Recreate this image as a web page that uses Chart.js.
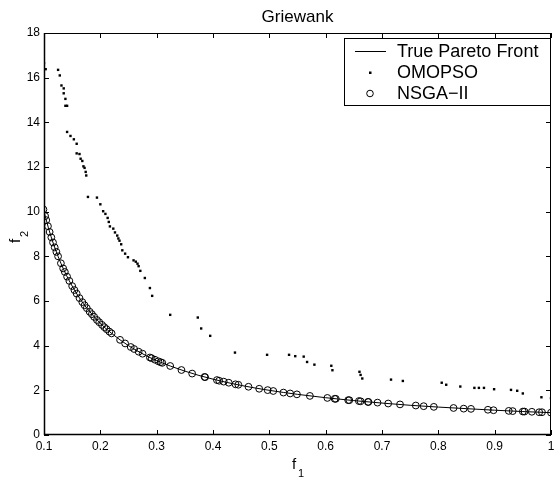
<!DOCTYPE html>
<html>
<head>
<meta charset="utf-8">
<title>Griewank</title>
<script src="https://cdn.jsdelivr.net/npm/chart.js@4.4.1/dist/chart.umd.min.js"></script>
<style>
  html, body { margin: 0; padding: 0; background: #fff; }
  #wrap { width: 556px; height: 478px; }
</style>
</head>
<body>
<div id="wrap"><canvas id="chart" width="556" height="478"></canvas></div>
<script>
// axis ticks
const xTicks = [0.1, 0.2, 0.3, 0.4, 0.5, 0.6, 0.7, 0.8, 0.9, 1];
const yTicks = [0, 2, 4, 6, 8, 10, 12, 14, 16, 18];

// true pareto front (f1, f2)
const frontX = [0.10, 0.11, 0.12, 0.13, 0.14, 0.15, 0.16, 0.17, 0.18, 0.20, 0.22, 0.25, 0.28, 0.30,
                0.35, 0.40, 0.45, 0.50, 0.55, 0.60, 0.65, 0.70, 0.75, 0.80, 0.85, 0.90, 0.95, 1.00];
const frontY = [10.00, 9.09, 8.33, 7.69, 7.14, 6.67, 6.25, 5.88, 5.56, 5.00, 4.55, 4.00, 3.57, 3.33,
                2.86, 2.50, 2.22, 2.00, 1.82, 1.67, 1.54, 1.43, 1.33, 1.25, 1.18, 1.11, 1.05, 1.00];

// OMOPSO solutions
const omopsoX = [0.100, 0.103, 0.125, 0.128, 0.131, 0.135, 0.135, 0.138, 0.138, 0.141, 0.141, 0.147,
                 0.153, 0.158, 0.158, 0.163, 0.165, 0.168, 0.170, 0.172, 0.174, 0.175, 0.178, 0.194,
                 0.200, 0.205, 0.209, 0.213, 0.215, 0.217, 0.223, 0.226, 0.230, 0.232, 0.234, 0.237,
                 0.239, 0.244, 0.249, 0.259, 0.263, 0.266, 0.268, 0.271, 0.279, 0.288, 0.292, 0.324,
                 0.373, 0.379, 0.395, 0.439, 0.496, 0.535, 0.546, 0.561, 0.567, 0.580, 0.610, 0.612,
                 0.660, 0.662, 0.665, 0.716, 0.737, 0.806, 0.814, 0.839, 0.864, 0.872, 0.881, 0.899,
                 0.929, 0.940, 0.950, 0.983, 1.000];
const omopsoY = [16.65, 16.38, 16.35, 16.10, 15.65, 15.52, 15.30, 15.05, 14.74, 14.74, 13.57, 13.39,
                 13.24, 13.04, 12.61, 12.58, 12.37, 12.27, 12.03, 11.96, 11.78, 11.62, 10.66, 10.63,
                 10.33, 10.02, 9.90, 9.72, 9.54, 9.34, 9.24, 9.07, 8.93, 8.80, 8.70, 8.54,
                 8.27, 8.12, 7.96, 7.82, 7.76, 7.67, 7.56, 7.35, 7.03, 6.58, 6.23, 5.38,
                 5.26, 4.77, 4.44, 3.69, 3.59, 3.59, 3.53, 3.51, 3.27, 3.15, 3.10, 2.90,
                 2.83, 2.69, 2.53, 2.48, 2.42, 2.34, 2.25, 2.17, 2.11, 2.11, 2.11, 2.05,
                 2.02, 1.98, 1.86, 1.69, 1.65];

// NSGA-II solutions
const nsgaX = [0.099, 0.102, 0.104, 0.107, 0.110, 0.113, 0.116, 0.119, 0.122, 0.125, 0.130, 0.134,
               0.137, 0.141, 0.145, 0.150, 0.154, 0.158, 0.163, 0.168, 0.172, 0.176, 0.181, 0.185,
               0.189, 0.194, 0.198, 0.203, 0.207, 0.211, 0.216, 0.220, 0.235, 0.244, 0.254, 0.260,
               0.268, 0.275, 0.288, 0.291, 0.297, 0.303, 0.307, 0.310, 0.324, 0.344, 0.363, 0.385,
               0.386, 0.407, 0.411, 0.419, 0.428, 0.440, 0.445, 0.463, 0.482, 0.497, 0.507, 0.525,
               0.537, 0.549, 0.572, 0.603, 0.616, 0.618, 0.640, 0.642, 0.659, 0.662, 0.675, 0.676,
               0.692, 0.711, 0.732, 0.760, 0.774, 0.792, 0.827, 0.845, 0.858, 0.888, 0.898, 0.925,
               0.932, 0.950, 0.953, 0.966, 0.979, 0.984, 1.000];
const nsgaY = [10.10, 9.80, 9.62, 9.35, 9.09, 8.85, 8.62, 8.40, 8.20, 8.00, 7.69, 7.46,
               7.30, 7.09, 6.90, 6.67, 6.49, 6.33, 6.13, 5.95, 5.81, 5.68, 5.52, 5.41,
               5.29, 5.15, 5.05, 4.93, 4.83, 4.74, 4.63, 4.55, 4.26, 4.10, 3.94, 3.85,
               3.73, 3.64, 3.47, 3.44, 3.37, 3.30, 3.26, 3.23, 3.09, 2.91, 2.75, 2.60,
               2.59, 2.46, 2.43, 2.39, 2.34, 2.27, 2.25, 2.16, 2.07, 2.01, 1.97, 1.90,
               1.86, 1.82, 1.75, 1.66, 1.62, 1.62, 1.56, 1.56, 1.52, 1.51, 1.48, 1.48,
               1.45, 1.41, 1.37, 1.32, 1.29, 1.26, 1.21, 1.18, 1.17, 1.13, 1.11, 1.08,
               1.07, 1.05, 1.05, 1.04, 1.02, 1.02, 1.00];

const FONT = "'Liberation Sans', Arial, Helvetica, sans-serif";
const toPoints = (xs, ys) => xs.map((x, i) => ({ x: x, y: ys[i] }));

// frame, inward ticks, title, axis labels and legend (matlab look)
const matlabFrame = {
  id: 'matlabFrame',
  afterDraw(chart) {
    const ctx = chart.ctx;
    const a = chart.chartArea;
    const xs = chart.scales.x, ys = chart.scales.y;
    const tl = 5;
    ctx.save();
    ctx.strokeStyle = '#000';
    ctx.lineWidth = 1;
    ctx.beginPath();
    ctx.rect(a.left + 0.5, a.top + 0.5, a.right - a.left - 1, a.bottom - a.top - 1);
    xTicks.forEach(v => {
      const px = Math.round(xs.getPixelForValue(v)) + 0.5;
      ctx.moveTo(px, a.bottom); ctx.lineTo(px, a.bottom - tl);
      ctx.moveTo(px, a.top); ctx.lineTo(px, a.top + tl);
    });
    yTicks.forEach(v => {
      const py = Math.round(ys.getPixelForValue(v)) + 0.5;
      ctx.moveTo(a.left, py); ctx.lineTo(a.left + tl, py);
      ctx.moveTo(a.right, py); ctx.lineTo(a.right - tl, py);
    });
    ctx.stroke();
    // left and bottom axis lines a bit heavier
    ctx.lineWidth = 1.5;
    ctx.beginPath();
    ctx.moveTo(a.left + 0.5, a.top); ctx.lineTo(a.left + 0.5, a.bottom);
    ctx.moveTo(a.left, a.bottom - 0.5); ctx.lineTo(a.right, a.bottom - 0.5);
    ctx.stroke();

    ctx.fillStyle = '#000';
    // title
    ctx.font = '17px ' + FONT;
    ctx.textAlign = 'center';
    ctx.textBaseline = 'alphabetic';
    ctx.fillText('Griewank', (a.left + a.right) / 2, 22);

    // x label f1
    ctx.textAlign = 'left';
    ctx.font = '15px ' + FONT;
    ctx.fillText('f', 292, 469);
    ctx.font = '11px ' + FONT;
    ctx.fillText('1', 298, 477);

    // y label f2 (rotated)
    ctx.save();
    ctx.translate(20, 243);
    ctx.rotate(-Math.PI / 2);
    ctx.font = '15px ' + FONT;
    ctx.fillText('f', 0, 0);
    ctx.font = '11px ' + FONT;
    ctx.fillText('2', 6, 8);
    ctx.restore();

    // legend
    const lx = 344, ly = 38, lw = 206, lh = 67;
    ctx.fillStyle = '#fff';
    ctx.fillRect(lx, ly, lw, lh);
    ctx.strokeStyle = '#000';
    ctx.lineWidth = 1;
    ctx.strokeRect(lx + 0.5, ly + 0.5, lw, lh);
    const rows = [51, 72, 93];
    const symX = 370;
    ctx.font = '18px ' + FONT;
    ctx.textBaseline = 'middle';
    ctx.fillStyle = '#000';
    chart.data.datasets.forEach((ds, i) => {
      const y = rows[i] + 0.5;
      if (i === 0) {
        ctx.beginPath();
        ctx.moveTo(355, y); ctx.lineTo(386, y);
        ctx.stroke();
      } else if (i === 1) {
        ctx.fillRect(symX - 1, y - 1, 2.5, 2.5);
      } else {
        ctx.beginPath();
        ctx.arc(symX, y, 3.3, 0, Math.PI * 2);
        ctx.stroke();
      }
      ctx.fillText(ds.label, 397, rows[i] + 1);
    });
    ctx.restore();
  }
};

const ctx = document.getElementById('chart').getContext('2d');
new Chart(ctx, {
  type: 'scatter',
  data: {
    datasets: [
      {
        label: 'True Pareto Front',
        data: toPoints(frontX, frontY),
        showLine: true,
        borderColor: '#000',
        borderWidth: 1,
        pointRadius: 0,
        cubicInterpolationMode: 'monotone',
        order: 3
      },
      {
        label: 'OMOPSO',
        data: toPoints(omopsoX, omopsoY),
        pointStyle: 'rect',
        pointRadius: 1.7,
        pointBorderWidth: 0,
        pointBackgroundColor: '#000',
        borderColor: '#000',
        order: 2
      },
      {
        label: 'NSGA\u2212II',
        data: toPoints(nsgaX, nsgaY),
        pointStyle: 'circle',
        pointRadius: 3.4,
        pointBorderWidth: 1,
        pointBorderColor: '#000',
        pointBackgroundColor: 'rgba(0,0,0,0)',
        order: 1
      }
    ]
  },
  options: {
    responsive: false,
    animation: false,
    devicePixelRatio: 1,
    layout: { padding: { top: 33, right: 1, left: 0, bottom: 0 } },
    plugins: {
      legend: { display: false },
      tooltip: { enabled: false },
      title: { display: false }
    },
    scales: {
      x: {
        type: 'linear',
        min: 0.1,
        max: 1,
        grid: { display: false, drawTicks: false },
        border: { display: false },
        afterBuildTicks: s => { s.ticks = xTicks.map(v => ({ value: v })); },
        afterFit: s => { s.height = 43; s.paddingLeft = 0; s.paddingRight = 0; },
        ticks: {
          padding: 4,
          color: '#000',
          font: { family: FONT, size: 12 },
          maxRotation: 0,
          autoSkip: false,
          callback: v => String(v)
        }
      },
      y: {
        type: 'linear',
        min: 0,
        max: 18,
        grid: { display: false, drawTicks: false },
        border: { display: false },
        afterBuildTicks: s => { s.ticks = yTicks.map(v => ({ value: v })); },
        afterFit: s => { s.width = 44; s.paddingTop = 0; s.paddingBottom = 0; },
        ticks: {
          padding: 4,
          color: '#000',
          font: { family: FONT, size: 12 },
          autoSkip: false,
          callback: v => String(v)
        }
      }
    }
  },
  plugins: [matlabFrame]
});
</script>
</body>
</html>
